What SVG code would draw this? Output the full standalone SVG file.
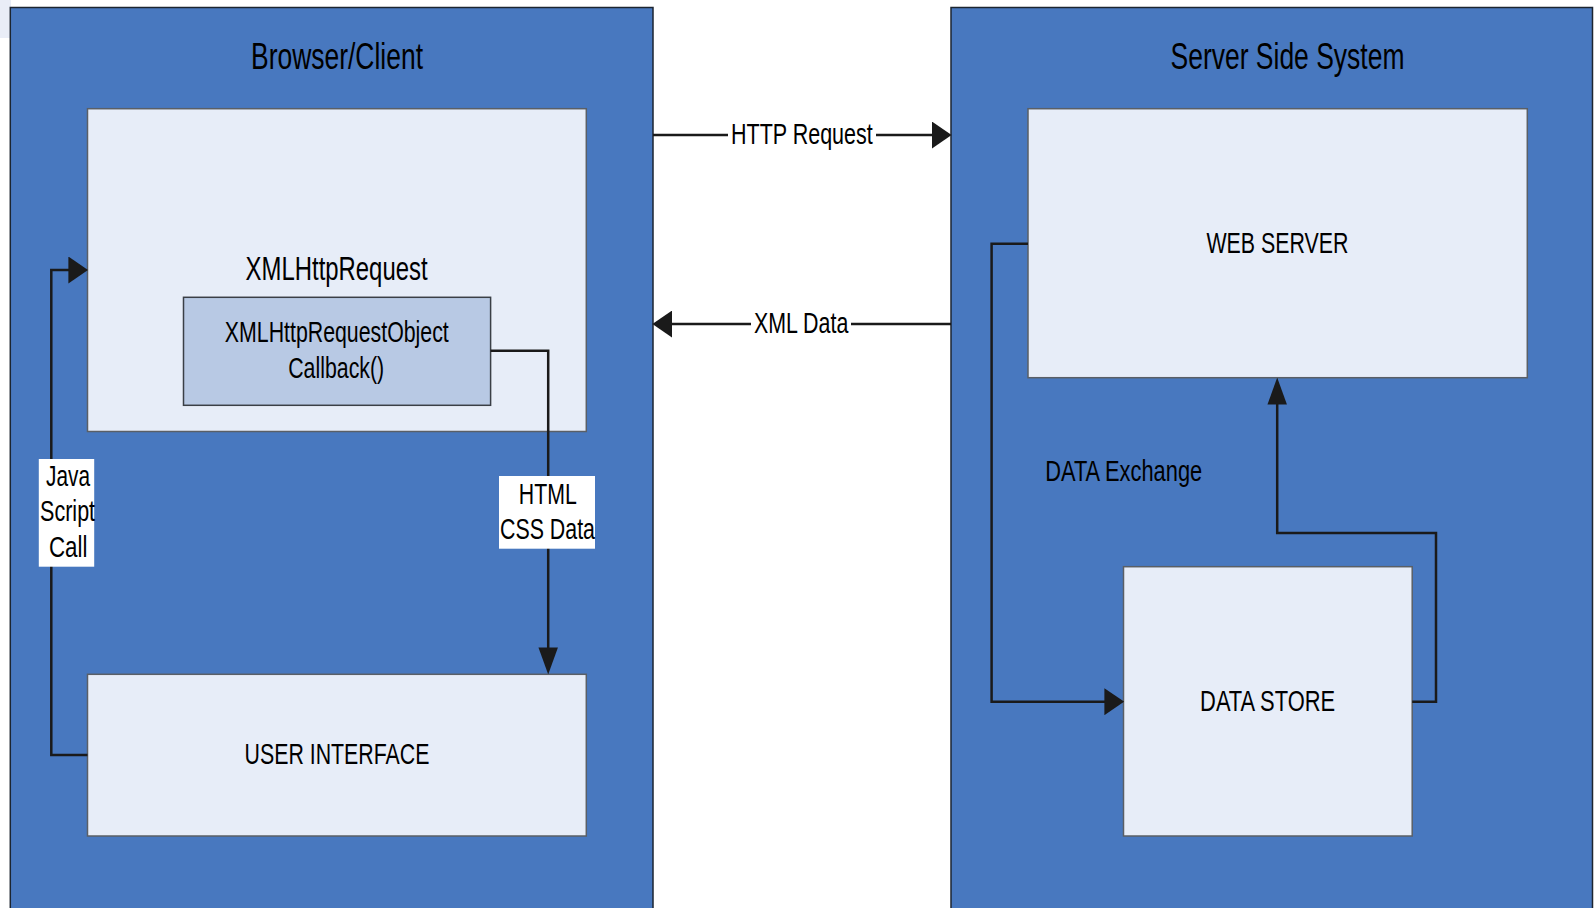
<svg xmlns="http://www.w3.org/2000/svg" width="1594" height="908" viewBox="0 0 1594 908">
<style>
.panel{fill:#4878bf;stroke:#1c2530;stroke-width:1.5}
.box{fill:#e7edf8;stroke:#5a5f66;stroke-width:1.5}
.inner{fill:#b8c9e4;stroke:#3a3f46;stroke-width:1.5}
.t{font-family:"Liberation Sans",Arial,sans-serif;fill:#000}
.c{fill:none;stroke:#1a1a1a;stroke-width:2.5}
.lbl{fill:#fff}
</style>
<defs>
<marker id="ah" markerUnits="userSpaceOnUse" markerWidth="20" markerHeight="27" viewBox="0 0 19.5 26.7" refX="9.5" refY="13.35" orient="auto">
<path d="M0,0 L19.5,13.35 L0,26.7 z" fill="#1a1a1a"/>
</marker>
<marker id="av" markerUnits="userSpaceOnUse" markerWidth="27" markerHeight="20" viewBox="0 0 26.6 19.2" refX="16.6" refY="9.6" orient="auto">
<path d="M0,0 L26.6,9.6 L0,19.2 z" fill="#1a1a1a"/>
</marker>
</defs>
<rect x="0" y="0" width="1594" height="908" fill="#fff"/>
<rect x="0" y="0" width="11" height="38" fill="#e9edf7"/>

<g id="browser-client">
<rect class="panel" x="10.3" y="7.5" width="642.7" height="910"/>
<text class="t" x="337" y="69" font-size="36" text-anchor="middle" textLength="172" lengthAdjust="spacingAndGlyphs">Browser/Client</text>
</g>
<g id="server-side">
<rect class="panel" x="951" y="7.5" width="641.5" height="910"/>
<text class="t" x="1287.5" y="69" font-size="36" text-anchor="middle" textLength="234" lengthAdjust="spacingAndGlyphs">Server Side System</text>
</g>

<g id="xmlhttprequest">
<rect class="box" x="87.5" y="108.7" width="498.8" height="322.8"/>
<text class="t" x="336.6" y="280" font-size="32.5" text-anchor="middle" textLength="182" lengthAdjust="spacingAndGlyphs">XMLHttpRequest</text>
</g>
<g id="callback">
<rect class="inner" x="183.5" y="297.3" width="307.1" height="108"/>
<text class="t" x="336.8" y="341.5" font-size="29" text-anchor="middle" textLength="224" lengthAdjust="spacingAndGlyphs">XMLHttpRequestObject</text>
<text class="t" x="336.2" y="377.5" font-size="29" text-anchor="middle" textLength="96" lengthAdjust="spacingAndGlyphs">Callback()</text>
</g>
<g id="user-interface">
<rect class="box" x="87.5" y="674.3" width="498.8" height="161.7"/>
<text class="t" x="337" y="764.3" font-size="30" text-anchor="middle" textLength="185" lengthAdjust="spacingAndGlyphs">USER INTERFACE</text>
</g>
<g id="web-server">
<rect class="box" x="1028" y="108.7" width="499.3" height="269"/>
<text class="t" x="1277.4" y="252.7" font-size="30" text-anchor="middle" textLength="142" lengthAdjust="spacingAndGlyphs">WEB SERVER</text>
</g>
<g id="data-store">
<rect class="box" x="1123.5" y="566.7" width="288.7" height="269.3"/>
<text class="t" x="1267.6" y="710.7" font-size="30" text-anchor="middle" textLength="135" lengthAdjust="spacingAndGlyphs">DATA STORE</text>
</g>

<g id="connectors">
<path class="c" d="M653,135 H941.5" marker-end="url(#ah)"/>
<rect class="lbl" x="728" y="118" width="148" height="34"/>
<text class="t" x="731" y="144" font-size="29" textLength="141.7" lengthAdjust="spacingAndGlyphs">HTTP Request</text>

<path class="c" d="M951,324 H662.5" marker-end="url(#ah)"/>
<rect class="lbl" x="751" y="308" width="100" height="30"/>
<text class="t" x="754" y="332.7" font-size="29" textLength="94.3" lengthAdjust="spacingAndGlyphs">XML Data</text>

<path class="c" d="M87.5,755 H51.3 V270 H78" marker-end="url(#ah)"/>
<rect class="lbl" x="38.8" y="459" width="55.4" height="107.7"/>
<text class="t" x="68" y="485.7" font-size="30" text-anchor="middle" textLength="44" lengthAdjust="spacingAndGlyphs">Java</text>
<text class="t" x="67.6" y="521" font-size="30" text-anchor="middle" textLength="55" lengthAdjust="spacingAndGlyphs">Script</text>
<text class="t" x="68.2" y="557.3" font-size="30" text-anchor="middle" textLength="38.5" lengthAdjust="spacingAndGlyphs">Call</text>

<path class="c" d="M490.6,350.7 H548.2 V664.3" marker-end="url(#av)"/>
<rect class="lbl" x="499" y="476" width="96" height="72.7"/>
<text class="t" x="547.8" y="504" font-size="29" text-anchor="middle" textLength="58" lengthAdjust="spacingAndGlyphs">HTML</text>
<text class="t" x="547.5" y="539" font-size="29" text-anchor="middle" textLength="95" lengthAdjust="spacingAndGlyphs">CSS Data</text>

<path class="c" d="M1028,243.7 H991.6 V701.7 H1114" marker-end="url(#ah)"/>
<path class="c" d="M1412.2,701.7 H1436 V533 H1277.2 V387.7" marker-end="url(#av)"/>
<text class="t" x="1045.2" y="481" font-size="29.3" textLength="157" lengthAdjust="spacingAndGlyphs">DATA Exchange</text>
</g>
</svg>
